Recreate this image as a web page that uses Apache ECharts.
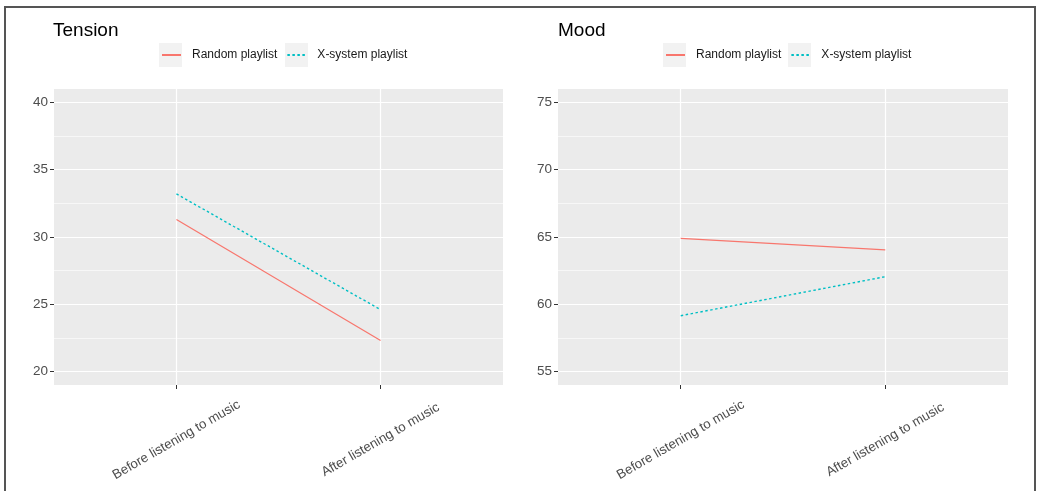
<!DOCTYPE html>
<html>
<head>
<meta charset="utf-8">
<script src="https://cdn.jsdelivr.net/npm/echarts@6/dist/echarts.min.js"></script>
<style>html,body{margin:0;padding:0;background:#fff}#c{width:1037px;height:491px}</style>
</head>
<body>
<div id="c"></div>
<script>
const categories = ['Before listening to music', 'After listening to music'];
const seriesNames = ['Random playlist', 'X-system playlist'];
const panelTitles = ['Tension', 'Mood'];
const tensionRandom = [31.3, 22.3];
const tensionXsystem = [33.2, 24.6];
const moodRandom = [64.9, 64.05];
const moodXsystem = [59.15, 62.05];
const tensionTicks = [20, 25, 30, 35, 40];
const moodTicks = [55, 60, 65, 70, 75];

const RED = '#F8766D', CYAN = '#00BFC4';
const FONT = 'Liberation Sans, Arial, sans-serif';
const xPos = categories.map((c, i) => i + 1);
const minorOf = t => t.slice(1).map((v, i) => (v + t[i]) / 2);
const pairs = vals => vals.map((v, i) => [xPos[i], v]);

const grids = [
  {left: 54, right: 534, top: 89, bottom: 106},
  {left: 558, right: 29, top: 89, bottom: 106}
].map(g => Object.assign(g, {show: true, backgroundColor: '#EBEBEB', borderWidth: 0, containLabel: false}));

const panels = [
  {ticks: tensionTicks, r: tensionRandom, x: tensionXsystem},
  {ticks: moodTicks, r: moodRandom, x: moodXsystem}
];

const xAxes = [], yAxes = [], series = [];
panels.forEach((p, gi) => {
  xAxes.push({
    type: 'value', gridIndex: gi, min: 0.4, max: 2.6,
    axisLine: {show: false},
    axisTick: {show: true, length: 4, customValues: xPos, lineStyle: {color: '#333333', width: 1}},
    axisLabel: {customValues: xPos, formatter: v => categories[Math.round(v) - 1], rotate: 30,
      align: 'center', verticalAlign: 'middle', margin: 55, color: '#4D4D4D', fontSize: 13.3, fontFamily: FONT},
    splitLine: {show: true, lineStyle: {color: '#FFFFFF', width: 1.2}}
  });
  const lo = p.ticks[0] - 1, hi = p.ticks[p.ticks.length - 1] + 1;
  yAxes.push({
    type: 'value', gridIndex: gi, min: lo, max: hi,
    axisLine: {show: false},
    axisTick: {show: true, length: 4, customValues: p.ticks, lineStyle: {color: '#333333', width: 1}},
    axisLabel: {customValues: p.ticks, margin: 6, color: '#4D4D4D', fontSize: 13.5, fontFamily: FONT},
    splitLine: {show: true, lineStyle: {color: '#FFFFFF', width: 1.2}}
  });
  yAxes.push({
    type: 'value', gridIndex: gi, min: lo, max: hi, position: 'left',
    axisLine: {show: false},
    axisTick: {show: false, customValues: minorOf(p.ticks)},
    axisLabel: {show: false, customValues: minorOf(p.ticks)},
    splitLine: {show: true, lineStyle: {color: '#FFFFFF', width: 0.6}}
  });
  series.push({
    type: 'line', name: seriesNames[0], xAxisIndex: gi, yAxisIndex: gi * 2,
    data: pairs(p.r), symbol: 'none', color: RED,
    lineStyle: {color: RED, width: 1.2, type: 'solid'}
  });
  series.push({
    type: 'line', name: seriesNames[1], xAxisIndex: gi, yAxisIndex: gi * 2,
    data: pairs(p.x), symbol: 'none', color: CYAN,
    lineStyle: {color: CYAN, width: 1.4, type: [2.5, 2.5]}
  });
});

const legendBase = {
  top: 49, itemWidth: 19, itemHeight: 14, itemGap: 9, data: seriesNames,
  padding: 0,
  itemStyle: {opacity: 0},
  textStyle: {color: '#1A1A1A', fontSize: 12, fontFamily: FONT, padding: [0, 0, 0, 6]},
  selectedMode: true
};

const keyBox = (x) => ({type: 'rect', left: x, top: 43, z: -10,
  shape: {width: 23, height: 24}, style: {fill: '#F2F2F2'}});

const titleStyle = {fontSize: 19, fontWeight: 'normal', color: '#000', fontFamily: FONT};
const option = {
  animation: false,
  backgroundColor: '#FFFFFF',
  title: [
    {text: panelTitles[0], left: 53, top: 21, padding: 0, textStyle: titleStyle},
    {text: panelTitles[1], left: 558, top: 21, padding: 0, textStyle: titleStyle}
  ],
  legend: [
    Object.assign({left: 161}, legendBase),
    Object.assign({left: 665}, legendBase)
  ],
  graphic: [
    {type: 'rect', z: -20, shape: {x: 5, y: 7, width: 1030, height: 500},
      style: {fill: 'none', stroke: '#555555', lineWidth: 2}},
    keyBox(159), keyBox(285), keyBox(663), keyBox(788)
  ],
  grid: grids,
  xAxis: xAxes,
  yAxis: yAxes,
  series: series
};

const chart = echarts.init(document.getElementById('c'), null, {renderer: 'canvas'});
chart.setOption(option);
</script>
</body>
</html>
